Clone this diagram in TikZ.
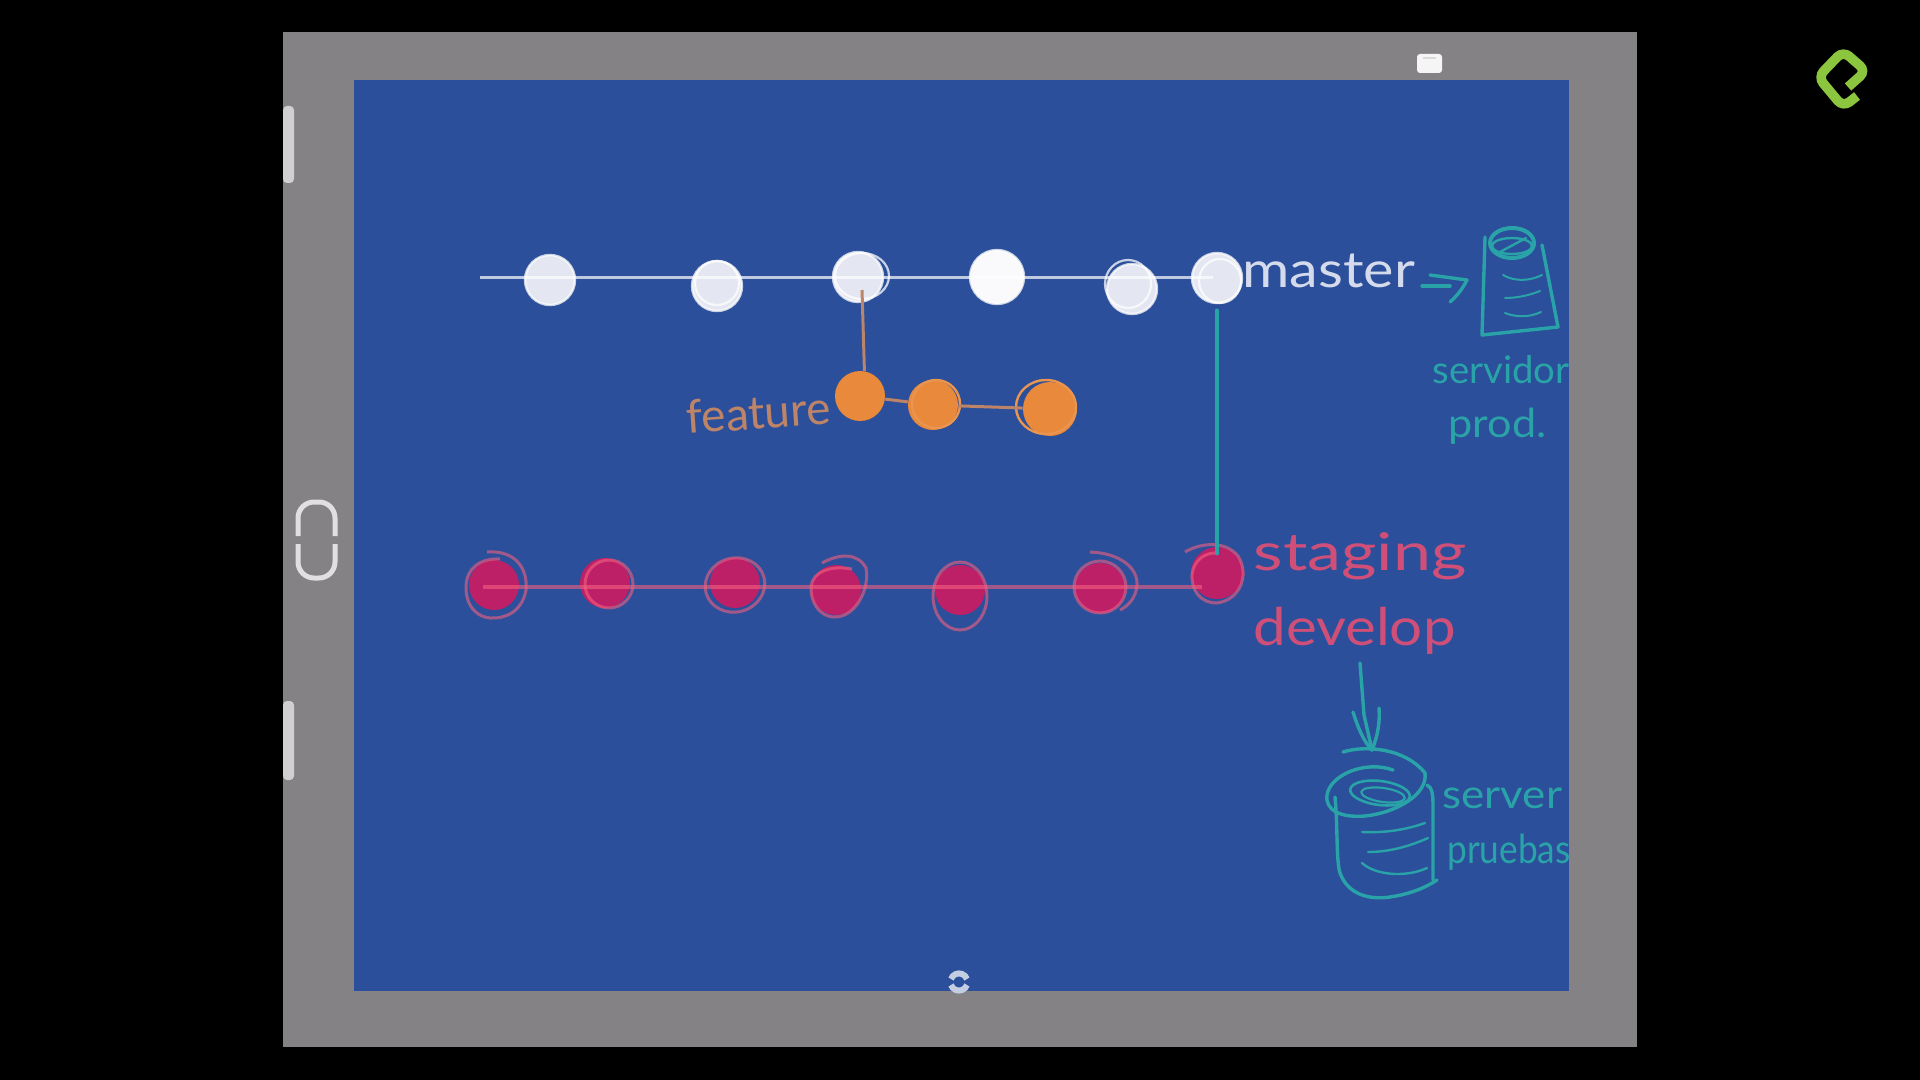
\documentclass[tikz,border=0pt]{standalone}
\usepackage{tikz, xcolor}
\usepackage{fontspec}
\setmainfont{Lato}
\definecolor{slate}{HTML}{2B4F9A}
\definecolor{frame}{HTML}{848284}
\definecolor{chalk}{HTML}{E4E7F2}
\definecolor{chalktext}{HTML}{D5DBEC}
\definecolor{peel}{HTML}{E8893B}
\definecolor{peeltext}{HTML}{BE8468}
\definecolor{berry}{HTML}{BE2068}
\definecolor{rose}{HTML}{F2607F}
\definecolor{rosetext}{HTML}{CF4F78}
\definecolor{marker}{HTML}{2AA3A8}
\definecolor{leaf}{HTML}{8CC63F}
\tikzset{
    mnode/.style={circle, fill=chalk, draw=white, draw opacity=0.75, line width=1.2pt, minimum size=25pt, inner sep=0pt},
    fnode/.style={circle, fill=peel, minimum size=25pt, inner sep=0pt},
    pnode/.style={circle, fill=berry, minimum size=25pt, inner sep=0pt},
    mring/.style={draw=white, draw opacity=0.75, line width=1.1pt},
    fring/.style={draw=peel!90!white, line width=1.2pt},
    pring/.style={draw=rose, draw opacity=0.6, line width=1.5pt},
    mline/.style={draw=white, draw opacity=0.7, line width=1.5pt},
    pline/.style={draw=rose, draw opacity=0.6, line width=1.9pt},
    fline/.style={draw=peeltext, line width=1.5pt},
    sketch/.style={draw=marker, line width=1.7pt, line cap=round, line join=round},
    hand/.style={anchor=base west, inner sep=0pt, transform shape},
}
\begin{document}
\begin{tikzpicture}[x=0.5pt, y=-0.5pt]
    \useasboundingbox (0,0) rectangle (1920,1080);
    \fill [black] (0,0) rectangle (1920,1080);
    \fill [frame] (283,32) rectangle (1637,1047);
    \fill [slate] (354,80) rectangle (1569,991);

    \fill [white!62!frame, rounded corners=2pt] (283,106) -- (294,106) -- (294,183) -- (283,183) -- cycle;
    \fill [white!62!frame, rounded corners=2pt] (283,701) -- (294,701) -- (294,780) -- (283,780) -- cycle;
    \draw [white!75!frame, line width=2.5pt, rounded corners=8pt] (298,536) -- (298,502) -- (335,502) -- (335,536);
    \draw [white!75!frame, line width=2.5pt, rounded corners=8pt] (298,544) -- (298,578) -- (335,578) -- (335,544);
    \fill [white!92!frame, rounded corners=1.5pt] (1417,54) rectangle (1442,73);
    \draw [white!70!frame, line width=0.8pt] (1423,58) -- (1436,58);
    \draw [white!72!slate, line width=3pt] (951,979) arc (200:340:8.5);
    \draw [white!72!slate, line width=3pt] (951,985) arc (160:20:8.5);
    \draw [leaf, line width=4.8pt, rounded corners=4pt] (1848,87) -- (1866,71) -- (1843,51) -- (1818,77) -- (1843,107) -- (1857,96);

    \node [mnode] (m1) at (550,280) {};
    \node [mnode] (m2) at (717,286) {};
    \node [mnode] (m3) at (858,277) {};
    \node [mnode, fill=white!80!chalk, minimum size=27pt] (m4) at (997,277) {};
    \node [mnode] (m5) at (1132,289) {};
    \node [mnode] (m6) at (1217,278) {};
    \draw [mring] (717,283) circle (22);
    \draw [mring] (862,276) ellipse [x radius=27, y radius=23];
    \draw [mring] (1128,284) ellipse [x radius=23, y radius=24];
    \draw [mring] (1220,281) ellipse [x radius=21, y radius=22];
    \coordinate (mstart) at (480,278);
    \coordinate (mend) at (1213,278);
    \draw [mline] (mstart) -- (mend);

    \node [fnode] (f1) at (860,396) {};
    \node [fnode] (f2) at (933,405) {};
    \node [fnode, minimum size=27pt] (f3) at (1050,409) {};
    \draw [fring] (936,404) circle (24);
    \draw [fring] (1046,407) ellipse [x radius=30, y radius=27];
    \draw [fline] (f1) -- (f2);
    \draw [fline] (f2) -- (f3);
    \coordinate (mdrop) at (862,290);
    \draw [fline] (f1.80) -- (mdrop);

    \node [pnode] (p1) at (494,585) {};
    \node [pnode] (p2) at (605,583) {};
    \node [pnode] (p3) at (735,583) {};
    \node [pnode] (p4) at (836,590) {};
    \node [pnode] (p5) at (960,590) {};
    \node [pnode] (p6) at (1100,588) {};
    \node [pnode, minimum size=26pt] (p7) at (1217,573) {};
    \draw [pring] (487,552) .. controls (515,550) and (528,568) .. (526,590) .. controls (522,612) and (505,619) .. (490,618) .. controls (472,616) and (465,600) .. (466,585) .. controls (467,570) and (478,558) .. (500,559);
    \draw [pring] (609,584) circle (24);
    \draw [pring, rotate around={15:(735,585)}] (735,585) ellipse [x radius=30, y radius=27];
    \draw [pring] (822,563) .. controls (840,553) and (858,553) .. (866,568) .. controls (870,590) and (855,617) .. (835,617) .. controls (818,617) and (810,600) .. (811,586) .. controls (813,572) and (830,565) .. (852,569);
    \draw [pring] (960,596) ellipse [x radius=27, y radius=34];
    \draw [pring] (1100,587) circle (26);
    \draw [pring] (1090,552) .. controls (1120,553) and (1138,568) .. (1137,585) .. controls (1136,598) and (1128,606) .. (1120,610);
    \draw [pring] (1185,552) .. controls (1200,543) and (1225,540) .. (1238,556) .. controls (1250,575) and (1240,600) .. (1217,603) .. controls (1200,603) and (1191,590) .. (1192,574) .. controls (1194,560) and (1205,553) .. (1215,553);
    \coordinate (pstart) at (483,587);
    \coordinate (pend) at (1202,587);
    \draw [pline] (pstart) -- (pend);

    \draw [sketch, shorten >=-7*0.5pt, shorten <=3pt] (m6) -- (p7);

    \node [hand, text=chalktext, font=\fontsize{25}{25}\selectfont, xscale=1.15] (master) at (1242,288) {master};
    \node [hand, text=peeltext, font=\fontsize{23}{23}\selectfont, xscale=1.0, rotate=4] (feature) at (687,434) {feature};
    \node [hand, text=rosetext, font=\fontsize{26}{26}\selectfont, xscale=1.31] (staging) at (1253,570) {staging};
    \node [hand, text=rosetext, font=\fontsize{26}{26}\selectfont, xscale=1.12] (develop) at (1253,645) {develop};
    \node [hand, text=marker, font=\fontsize{19}{19}\selectfont, xscale=1.01] (servidor) at (1432,383) {servidor};
    \node [hand, text=marker, font=\fontsize{20}{20}\selectfont, xscale=1.08] (prod) at (1448,437) {prod.};
    \node [hand, text=marker, font=\fontsize{20}{20}\selectfont, xscale=1.1] (server) at (1442,808) {server};
    \node [hand, text=marker, font=\fontsize{20}{20}\selectfont, xscale=0.88] (pruebas) at (1447,863) {pruebas};

    \coordinate (arrowa) at (1422,286);
    \coordinate (arrowb) at (1467,280);
    \draw [sketch] (arrowa) -- (1450,286);
    \draw [sketch] (1430,275) -- (arrowb) .. controls (1463,288) and (1457,296) .. (1450,302);

    \draw [sketch] (1485,237) -- (1482,335) -- (1558,327) -- (1542,245);
    \draw [sketch, line width=2pt] (1512,243) ellipse [x radius=22, y radius=15];
    \draw [sketch, line width=1.2pt] (1512,246) ellipse [x radius=20, y radius=8];
    \draw [sketch, line width=1.2pt] (1500,252) -- (1526,238);
    \draw [sketch, line width=1pt] (1503,275) .. controls (1515,282) and (1530,281) .. (1542,275);
    \draw [sketch, line width=1pt] (1505,298) .. controls (1518,298) and (1530,295) .. (1540,291);
    \draw [sketch, line width=1pt] (1505,313) .. controls (1518,318) and (1530,317) .. (1541,312);

    \coordinate (arrowc) at (1360,663);
    \coordinate (arrowd) at (1372,750);
    \draw [sketch] (arrowc) -- (1364,715) -- (arrowd);
    \draw [sketch] (1353,712) .. controls (1358,728) and (1364,742) .. (arrowd) .. controls (1378,735) and (1380,722) .. (1379,708);

    \draw [sketch] (1343,752) .. controls (1365,745) and (1405,748) .. (1425,773) .. controls (1428,795) and (1395,813) .. (1365,816) .. controls (1340,818) and (1325,810) .. (1327,795) .. controls (1330,775) and (1365,760) .. (1393,770);
    \draw [sketch, line width=1.3pt, rotate around={-7:(1380,793)}] (1380,793) ellipse [x radius=30, y radius=12];
    \draw [sketch, line width=1.1pt, rotate around={-8:(1383,795)}] (1383,795) ellipse [x radius=22, y radius=7];
    \draw [sketch] (1335,797) .. controls (1338,830) and (1336,860) .. (1340,873) .. controls (1348,895) and (1370,900) .. (1390,897) .. controls (1410,894) and (1425,888) .. (1437,880);
    \draw [sketch] (1427,785) .. controls (1432,787) and (1433,795) .. (1433,805) -- (1433,880);
    \draw [sketch, line width=1.2pt] (1362,832) .. controls (1385,833) and (1405,830) .. (1425,823);
    \draw [sketch, line width=1.2pt] (1368,852) .. controls (1390,852) and (1410,846) .. (1428,838);
    \draw [sketch, line width=1.2pt] (1362,863) .. controls (1375,875) and (1405,878) .. (1427,868);
\end{tikzpicture}
\end{document}
